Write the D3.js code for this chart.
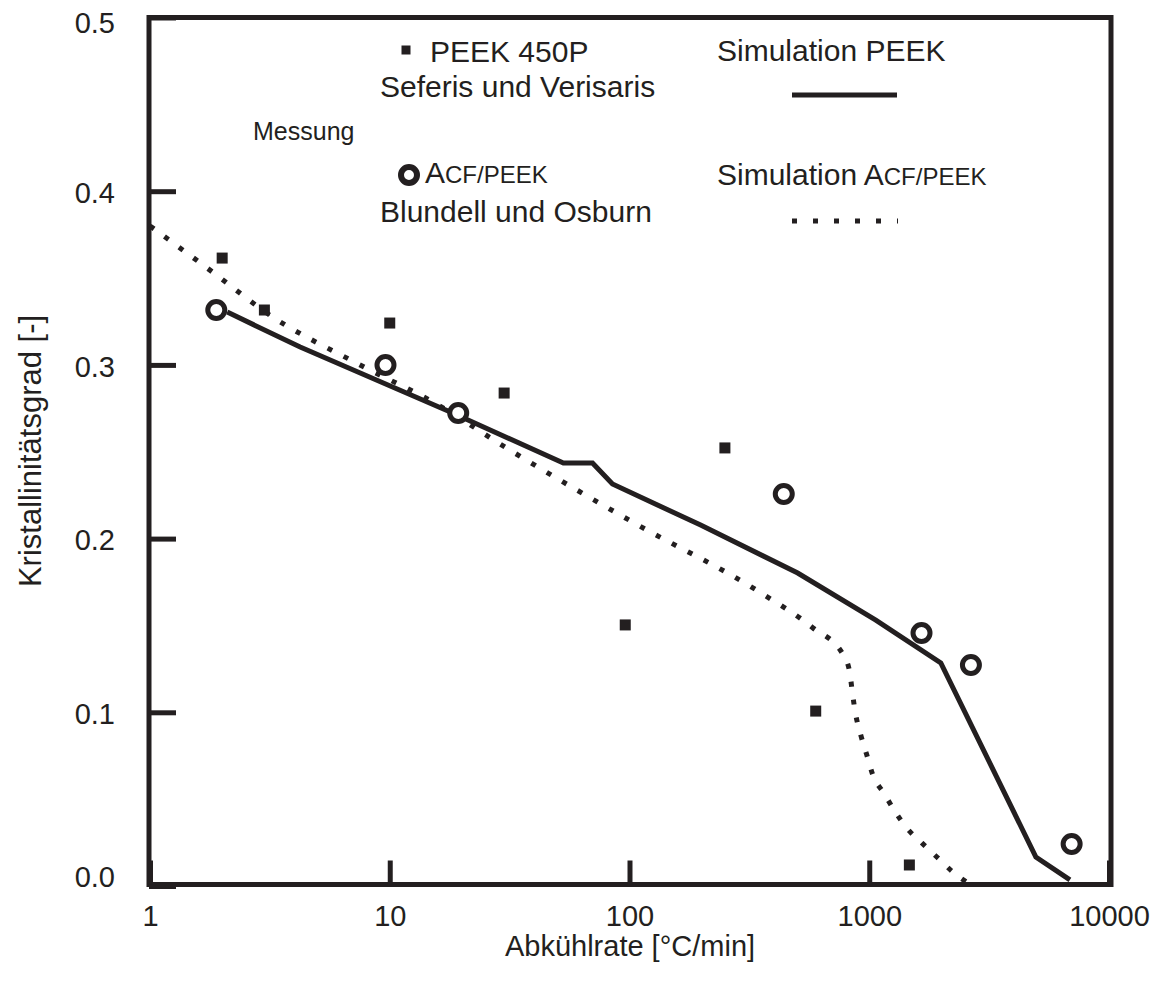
<!DOCTYPE html>
<html>
<head>
<meta charset="utf-8">
<script src="https://cdn.jsdelivr.net/npm/d3@7"></script>
<style>
  html, body { margin: 0; padding: 0; background: #ffffff; }
  svg { display: block; }
  text { font-family: "Liberation Sans", Arial, Helvetica, sans-serif; fill: #231f20; }
</style>
</head>
<body>
<svg id="chart" width="1153" height="988"></svg>
<script>
// ---- data ----
const xTickValues = [1, 10, 100, 1000, 10000];
const yTickValues = [0, 0.1, 0.2, 0.3, 0.4, 0.5];

// Messung PEEK 450P (Seferis und Verisaris)
const peekRate  = [2, 3, 10, 30, 250, 96, 598, 1470];
const peekCryst = [0.3615, 0.3316, 0.3241, 0.2838, 0.2522, 0.1503, 0.1007, 0.0121];

// Messung ACF/PEEK (Blundell und Osburn)
const acfRate  = [1.89, 9.6, 19.3, 440, 1652, 2655, 6985];
const acfCryst = [0.3316, 0.2999, 0.2723, 0.2257, 0.1457, 0.1272, 0.0242];

// Simulation PEEK
const simPeekRate  = [2.1, 4.23, 17.9, 53, 70.1, 84.9, 198, 503, 1065, 1988, 4955, 6871];
const simPeekCryst = [0.3304, 0.3103, 0.2729, 0.2435, 0.2435, 0.2314, 0.2078, 0.1802, 0.1531, 0.1284, 0.0167, 0.0035];

// Simulation ACF/PEEK
const simAcfRate  = [1, 1.9, 3.08, 7.3, 15.8, 30.9, 104, 352, 581, 783, 830, 851, 879, 922, 977, 1035, 1150, 1277, 1434, 1657, 1914, 2210, 2577];
const simAcfCryst = [0.380, 0.3516, 0.3297, 0.3009, 0.2772, 0.2519, 0.2092, 0.1689, 0.1487, 0.1326, 0.1226, 0.111, 0.0984, 0.0869, 0.0754, 0.0639, 0.0535, 0.0432, 0.0334, 0.0248, 0.0167, 0.0086, 0.0017];

// ---- drawing ----
const ink = "#231f20";
const svg = d3.select("#chart");

const x = d3.scaleLog().domain([1, 10000]).range([150, 1109]);
const y = d3.scaleLinear().domain([0, 0.5]).range([886, 17.5]);

// frame
svg.append("rect")
  .attr("x", 149).attr("y", 17.5)
  .attr("width", 962).attr("height", 867)
  .attr("fill", "none").attr("stroke", ink).attr("stroke-width", 5);

// y axis (ticks inward)
const yAxis = d3.axisLeft(y)
  .tickValues(yTickValues)
  .tickFormat(d3.format(".1f"))
  .tickSize(-27)
  .tickPadding(34);
const gy = svg.append("g").attr("transform", "translate(149,0)").call(yAxis);
gy.select(".domain").remove();
gy.selectAll(".tick line").attr("stroke", ink).attr("stroke-width", 5);
gy.selectAll(".tick text")
  .attr("font-size", 29)
  .attr("font-family", "Liberation Sans, Arial, sans-serif")
  .attr("fill", ink)
  .attr("dy", d => d === 0 ? "0.03em" : (d === 0.5 ? "0.52em" : "0.39em"));

// x axis (ticks inward)
const xAxis = d3.axisBottom(x)
  .tickValues(xTickValues)
  .tickFormat(d => String(d))
  .tickSize(-24)
  .tickPadding(0);
const gx = svg.append("g").attr("transform", "translate(0,884.5)").call(xAxis);
gx.select(".domain").remove();
gx.selectAll(".tick line").attr("stroke", ink).attr("stroke-width", 5);
gx.selectAll(".tick text")
  .attr("font-size", 29)
  .attr("font-family", "Liberation Sans, Arial, sans-serif")
  .attr("fill", ink)
  .attr("y", 41.5).attr("dy", 0);

// axis titles
svg.append("text")
  .attr("x", 630).attr("y", 956)
  .attr("text-anchor", "middle")
  .attr("font-size", 29)
  .text("Abkühlrate [°C/min]");

svg.append("text")
  .attr("transform", "translate(41,451) rotate(-90)")
  .attr("text-anchor", "middle")
  .attr("font-size", 31)
  .text("Kristallinitätsgrad [-]");

// simulation lines
const simPeek = simPeekRate.map((r, i) => [r, simPeekCryst[i]]);
const simAcf = simAcfRate.map((r, i) => [r, simAcfCryst[i]]);

svg.append("path")
  .datum(simAcf)
  .attr("fill", "none")
  .attr("stroke", ink)
  .attr("stroke-width", 5)
  .attr("stroke-dasharray", "5,13")
  .attr("d", d3.line().x(d => x(d[0])).y(d => y(d[1])).curve(d3.curveMonotoneX));

svg.append("path")
  .datum(simPeek)
  .attr("fill", "none")
  .attr("stroke", ink)
  .attr("stroke-width", 5)
  .attr("stroke-linejoin", "miter")
  .attr("d", d3.line().x(d => x(d[0])).y(d => y(d[1])));

// measured PEEK squares
const sq = 11;
svg.append("g").selectAll("rect")
  .data(peekRate.map((r, i) => [r, peekCryst[i]]))
  .join("rect")
  .attr("x", d => x(d[0]) - sq / 2)
  .attr("y", d => y(d[1]) - sq / 2)
  .attr("width", sq).attr("height", sq)
  .attr("fill", ink);

// measured ACF/PEEK circles
svg.append("g").selectAll("circle")
  .data(acfRate.map((r, i) => [r, acfCryst[i]]))
  .join("circle")
  .attr("cx", d => x(d[0]))
  .attr("cy", d => y(d[1]))
  .attr("r", 8.5)
  .attr("fill", "#ffffff")
  .attr("stroke", ink)
  .attr("stroke-width", 5);

// ---- legend ----
const lg = svg.append("g");
lg.append("rect").attr("x", 401.5).attr("y", 45.5).attr("width", 9).attr("height", 9).attr("fill", ink);
lg.append("text").attr("x", 430).attr("y", 62).attr("font-size", 30).text("PEEK 450P");
lg.append("text").attr("x", 380).attr("y", 97).attr("font-size", 30).text("Seferis und Verisaris");

lg.append("text").attr("x", 253).attr("y", 140).attr("font-size", 25).text("Messung");

lg.append("circle").attr("cx", 409).attr("cy", 175).attr("r", 8).attr("fill", "#ffffff")
  .attr("stroke", ink).attr("stroke-width", 6);
const t1 = lg.append("text").attr("x", 425).attr("y", 183).attr("font-size", 30);
t1.append("tspan").text("A");
t1.append("tspan").attr("font-size", 24).text("CF/PEEK");
lg.append("text").attr("x", 380).attr("y", 222).attr("font-size", 30).text("Blundell und Osburn");

lg.append("text").attr("x", 717).attr("y", 61).attr("font-size", 30).text("Simulation PEEK");
lg.append("line").attr("x1", 792).attr("x2", 897).attr("y1", 95).attr("y2", 95)
  .attr("stroke", ink).attr("stroke-width", 5);

const t2 = lg.append("text").attr("x", 717).attr("y", 185).attr("font-size", 30);
t2.append("tspan").text("Simulation A");
t2.append("tspan").attr("font-size", 24).text("CF/PEEK");
lg.append("line").attr("x1", 792).attr("x2", 898).attr("y1", 221).attr("y2", 221)
  .attr("stroke", ink).attr("stroke-width", 5).attr("stroke-dasharray", "5,16");
</script>
</body>
</html>
